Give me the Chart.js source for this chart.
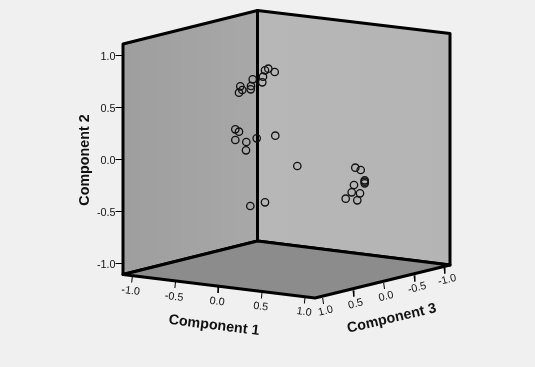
<!DOCTYPE html>
<html><head><meta charset="utf-8">
<style>html,body{margin:0;padding:0;background:#f0f0f0;overflow:hidden}canvas{display:block}</style>
<script src="https://cdn.jsdelivr.net/npm/chart.js@4/dist/chart.umd.min.js"></script>
</head><body><canvas id="c" width="535" height="367"></canvas>
<script>
const pointsX = [265,268.3,274.7,263,262.3,252.7,251,250.7,240.3,242.3,239,235.3,239,235.3,246.3,246,256.7,275.3,297.3,250.3,265,355.3,360.7,364.7,364.7,364.7,354,351.7,360,345.7,357.3];
const pointsY = [70.3,68.7,72,76.7,82.3,79.3,86,89.3,86.3,90,92.7,129.3,131.7,140,142,150.3,138.3,135.7,166,206,202.3,167.7,170,180.3,181.7,183.3,185,192.3,193.3,198.7,200.3];

// Box corners
const leftWallX  = [123,257.5,257.5,123,123];
const leftWallY  = [44,10.5,241,274.5,44];
const rightWallX = [257.5,450,450,257.5,257.5];
const rightWallY = [10.5,33.5,265,241,10.5];
const floorX     = [123,257.5,450,315,123];
const floorY     = [274.5,241,265,298,274.5];

// Tick labels
const axis2Labels = ['1.0','0.5','0.0','-0.5','-1.0'];
const axis2Y      = [55.5,107.5,159.5,211.5,263.5];
const axis1Labels = ['-1.0','-0.5','0.0','0.5','1.0'];
const axis1TickX  = [132.3,175.5,218.7,262,305];
const axis1TickY  = [276.5,282,287,292.5,297.5];
const axis1LabelX = [130.7,174,217,260.7,304];
const axis1LabelY = [291,297,301.7,306.7,312];
const axis3Labels = ['-1.0','-0.5','0.0','0.5','1.0'];
const axis3TickX  = [444,414,383.7,353,322.7];
const axis3TickY  = [267.5,275.5,283,290.5,298];
const axis3LabelX = [447,417,386,355.7,325.7];
const axis3LabelY = [280,288,296.5,304,311];

const toPts = (xs, ys) => xs.map((x, i) => ({x, y: ys[i]}));
function segs(list){ const o=[]; list.forEach(s=>{o.push({x:s[0],y:s[1]},{x:s[2],y:s[3]},{x:NaN,y:NaN});}); return o; }
const tickSegs = [
  ...axis2Y.map(y=>[115.5,y,123,y]),
  ...axis1TickX.map((x,i)=>[x,axis1TickY[i],x-0.6,axis1TickY[i]+6]),
  ...axis3TickX.map((x,i)=>[x,axis3TickY[i],x+0.8,axis3TickY[i]+6]),
];
const ctxG = document.getElementById('c').getContext('2d');
function grad(x0,x1,a,b){const g=ctxG.createLinearGradient(x0,0,x1,0);g.addColorStop(0,a);g.addColorStop(1,b);return g;}
const wall = (data,fillColor,order)=>({type:'scatter',data,showLine:true,fill:'shape',backgroundColor:fillColor,borderColor:'#000',borderWidth:3,pointRadius:0,tension:0,order,clip:false,borderJoinStyle:'round',borderCapStyle:'round'});

const textPlugin = {id:'boxText',afterDatasetsDraw(chart){
  const {ctx,scales:{x,y}}=chart;
  const put=(t,px,py,rot,font,align)=>{ctx.save();ctx.translate(x.getPixelForValue(px),y.getPixelForValue(py));ctx.rotate(rot*Math.PI/180);ctx.font=font;ctx.fillStyle='#111';ctx.textAlign=align||'center';ctx.textBaseline='middle';ctx.fillText(t,0,0);ctx.restore();};
  const tf='10.8px "Liberation Sans"',bf='bold 14.3px "Liberation Sans"';
  axis2Labels.forEach((t,i)=>put(t,115.5,axis2Y[i]+1.8,0,tf,'right'));
  axis1Labels.forEach((t,i)=>put(t,axis1LabelX[i],axis1LabelY[i],7,tf));
  axis3Labels.forEach((t,i)=>put(t,axis3LabelX[i],axis3LabelY[i],-13.7,tf));
  put('Component 1',214,325.5,7,bf);
  put('Component 2',85.5,160,-90,bf);
  put('Component 3',391.7,318.5,-13.2,bf);
}};

new Chart(ctxG,{
  type:'scatter',
  data:{datasets:[
    {label:'Cases',data:toPts(pointsX,pointsY),pointRadius:3.7,pointBorderWidth:1.3,pointBorderColor:'#111',pointBackgroundColor:'rgba(0,0,0,0)',showLine:false,order:0,clip:false},
    {label:'Ticks',data:segs(tickSegs),showLine:true,spanGaps:false,borderColor:'#000',borderWidth:1,pointRadius:0,order:1,clip:false},
    wall(toPts(floorX,floorY),'#8c8c8c',2),
    wall(toPts(rightWallX,rightWallY),grad(257,450,'#b7b7b7','#b4b4b4'),3),
    wall(toPts(leftWallX,leftWallY),grad(123,257,'#9e9e9e','#a8a8a8'),4)
  ]},
  options:{responsive:false,animation:false,events:[],
    layout:{padding:0,autoPadding:false},
    plugins:{legend:{display:false},tooltip:{enabled:false}},
    scales:{
      x:{type:'linear',min:0,max:535,display:false},
      y:{type:'linear',min:0,max:367,reverse:true,display:false}
    }},
  plugins:[textPlugin,{id:'bg',beforeDraw(c){c.ctx.save();c.ctx.fillStyle='#f0f0f0';c.ctx.fillRect(0,0,535,367);c.ctx.restore();}}]
});
</script></body></html>
